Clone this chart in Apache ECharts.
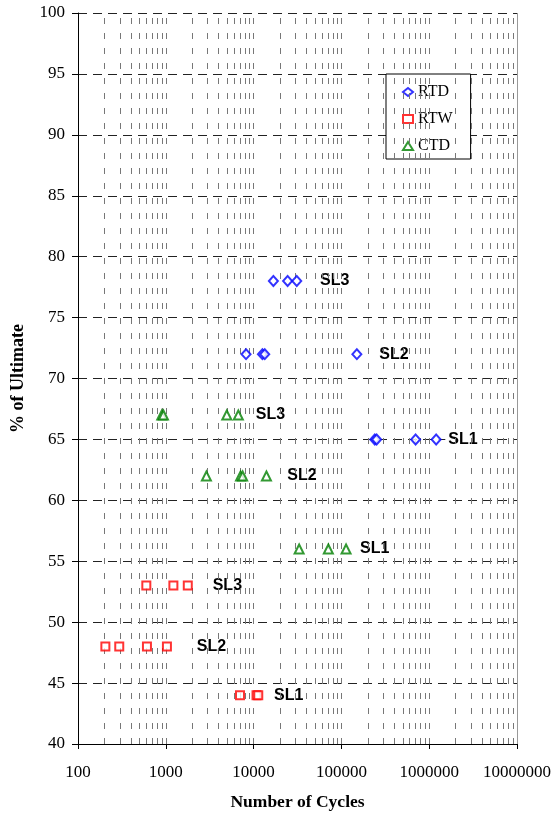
<!DOCTYPE html>
<html>
<head>
<meta charset="utf-8">
<script src="https://cdn.jsdelivr.net/npm/echarts@6/dist/echarts.min.js"></script>
<style>
  html, body { margin: 0; padding: 0; background: #fff; }
  #chart { width: 556px; height: 813px; }
</style>
</head>
<body>
<div id="chart"></div>
<script>
// cycles / % of ultimate
const rtdCycles = [16800, 24400, 31000, 8200, 12600, 13400, 150000, 240000, 252000, 700000, 1200000];
const rtdLoad   = [78, 78, 78, 72, 72, 72, 72, 65, 65, 65, 65];
const rtwCycles = [600, 1220, 1780, 205, 295, 610, 1030, 7000, 10800, 11300];
const rtwLoad   = [53, 53, 53, 48, 48, 48, 48, 44, 44, 44];
const ctdCycles = [900, 940, 4950, 6700, 2900, 7100, 7500, 14000, 33000, 71000, 113000];
const ctdLoad   = [67, 67, 67, 67, 62, 62, 62, 62, 56, 56, 56];

// stress level annotations
const slText   = ['SL3', 'SL2', 'SL1', 'SL3', 'SL2', 'SL1', 'SL3', 'SL2', 'SL1'];
const slCycles = [57000, 270000, 1650000, 10600, 24200, 163000, 3420, 2250, 17100];
const slLoad   = [78, 72, 65, 67, 62, 56, 53, 48, 44];

// vertical log grid (2..9 per decade plus decades)
const vGrid = [];
for (let d = 100; d < 10000000; d *= 10) {
  for (let k = 2; k <= 10; k++) vGrid.push(d * k);
}

const pairs = (xs, ys) => xs.map((x, i) => [x, ys[i]]);

const chart = echarts.init(document.getElementById('chart'));
const serif = 'Liberation Serif';

chart.setOption({
  animation: false,
  grid: { left: 78, right: 39, top: 13, bottom: 69, containLabel: false, outerBoundsMode: 'none' },
  legend: {
    data: ['RTD', 'RTW', 'CTD'],
    orient: 'vertical',
    left: 386,
    top: 74,
    padding: [10, 18, 5, 16],
    itemGap: 11,
    itemWidth: 10,
    itemHeight: 8,
    borderColor: '#000',
    borderWidth: 1,
    backgroundColor: '#fff',
    textStyle: { fontFamily: serif, fontSize: 16, color: '#000' }
  },
  xAxis: {
    type: 'log',
    logBase: 10,
    min: 100,
    max: 10000000,
    name: 'Number of Cycles',
    nameLocation: 'middle',
    nameGap: 49,
    nameTextStyle: { fontFamily: serif, fontSize: 17.5, fontWeight: 'bold', color: '#000' },
    axisLine: { lineStyle: { color: '#000', width: 1 } },
    axisTick: { show: true, length: 5, lineStyle: { color: '#000' } },
    axisLabel: {
      margin: 20,
      fontFamily: serif, fontSize: 17, color: '#000',
      formatter: v => String(Math.round(v))
    },
    splitLine: { show: false }
  },
  yAxis: {
    type: 'value',
    min: 40,
    max: 100,
    interval: 5,
    name: '% of Ultimate',
    nameLocation: 'middle',
    nameGap: 51,
    nameTextStyle: { fontFamily: serif, fontSize: 18, fontWeight: 'bold', color: '#000' },
    axisLine: { show: true, lineStyle: { color: '#000', width: 1 } },
    axisTick: { show: true, length: 6, lineStyle: { color: '#000' } },
    axisLabel: { margin: 13, fontFamily: serif, fontSize: 17, color: '#000' },
    splitLine: { show: true, lineStyle: { color: '#222', type: [9, 6], width: 1 } }
  },
  series: [
    {
      name: 'grid',
      type: 'scatter',
      data: [],
      silent: true,
      markLine: {
        silent: true,
        symbol: ['none', 'none'],
        label: { show: false },
        lineStyle: { color: '#777', type: [6, 9], width: 1 },
        data: vGrid.map(v => ({
          xAxis: v,
          lineStyle: v === 10000000 ? { type: 'solid', color: '#999' } : {}
        }))
      }
    },
    {
      name: 'RTD',
      type: 'scatter',
      symbol: 'emptyDiamond',
      symbolSize: [9, 10],
      itemStyle: { color: '#0000ff', borderWidth: 1 },
      data: pairs(rtdCycles, rtdLoad),
      z: 5
    },
    {
      name: 'RTW',
      type: 'scatter',
      symbol: 'emptyRect',
      symbolSize: 8,
      itemStyle: { color: '#ff0000', borderWidth: 1 },
      data: pairs(rtwCycles, rtwLoad),
      z: 5
    },
    {
      name: 'CTD',
      type: 'scatter',
      symbol: 'emptyTriangle',
      symbolSize: [9, 9],
      itemStyle: { color: '#008000', borderWidth: 1 },
      data: pairs(ctdCycles, ctdLoad),
      z: 5
    },
    {
      name: 'labels',
      type: 'scatter',
      symbolSize: 0,
      silent: true,
      z: 4,
      itemStyle: { color: '#000', opacity: 1 },
      data: slText.map((t, i) => ({ name: t, value: [slCycles[i], slLoad[i]] })),
      label: {
        show: true,
        formatter: p => p.name,
        position: [-3, 0],
        align: 'left',
        verticalAlign: 'middle',
        fontFamily: 'Liberation Sans',
        fontWeight: 'bold',
        fontSize: 16,
        color: '#000',
        textBorderWidth: 0,
        backgroundColor: '#fff',
        padding: [3, 3]
      }
    }
  ]
});
</script>
</body>
</html>
